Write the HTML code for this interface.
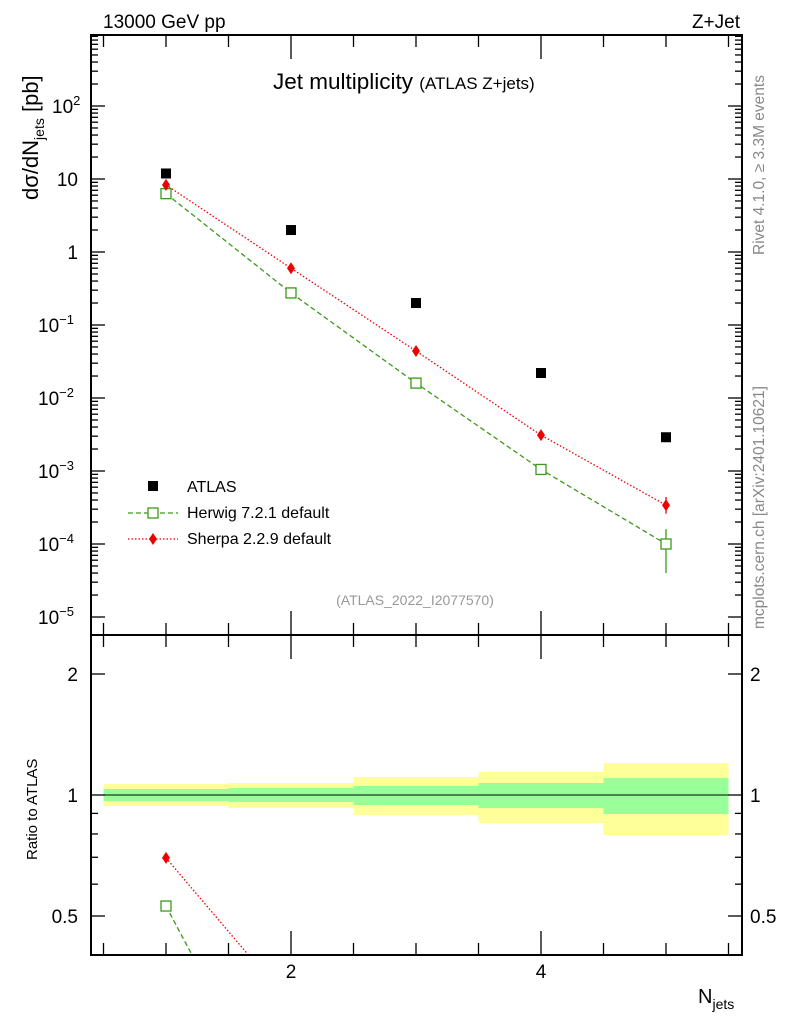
<!DOCTYPE html>
<html><head><meta charset="utf-8"><style>
html,body{margin:0;background:#fff;width:786px;height:1024px;overflow:hidden;}
svg{display:block;font-family:"Liberation Sans",sans-serif;}
</style></head><body>
<svg id="c" width="786" height="1024" viewBox="0 0 786 1024">
<rect width="786" height="1024" fill="#fff"/>
<g id="bands"></g>
<g id="grid"></g>
<g id="marks"></g>
<rect x="91" y="35" width="651" height="600" fill="none" stroke="#000" stroke-width="2"/>
<rect x="91" y="635" width="651" height="320" fill="none" stroke="#000" stroke-width="2"/>
<text x="103" y="28" font-size="19">13000 GeV pp</text>
<text x="740" y="28" font-size="19" text-anchor="end">Z+Jet</text>
<text x="273" y="89" font-size="22.5">Jet multiplicity <tspan font-size="17">(ATLAS Z+jets)</tspan></text>
<text x="415" y="605" font-size="14" fill="#999" text-anchor="middle">(ATLAS_2022_I2077570)</text>
<text transform="translate(764,255) rotate(-90)" font-size="15.5" fill="#888">Rivet 4.1.0, ≥ 3.3M events</text>
<text transform="translate(764,629) rotate(-90)" font-size="15.5" fill="#888">mcplots.cern.ch [arXiv:2401.10621]</text>
<text transform="translate(38,200) rotate(-90)" font-size="22">dσ/dN<tspan font-size="14" dy="6">jets</tspan><tspan dy="-6"> [pb]</tspan></text>
<text transform="translate(37,860) rotate(-90)" font-size="15">Ratio to ATLAS</text>
<text x="698" y="1003" font-size="20">N<tspan font-size="14" dy="6">jets</tspan></text>
<g id="legend">
<rect x="148" y="481" width="10" height="10" fill="#000"/>
<text x="187" y="492" font-size="16">ATLAS</text>
<line x1="128" y1="513" x2="178" y2="513" stroke="#3a9a1a" stroke-width="1.3" stroke-dasharray="5,3"/>
<rect x="148" y="508" width="10" height="10" fill="#fff" stroke="#3a9a1a" stroke-width="1.3"/>
<text x="187" y="518" font-size="16">Herwig 7.2.1 default</text>
<line x1="128" y1="539" x2="178" y2="539" stroke="#e00" stroke-width="1.3" stroke-dasharray="1.5,2"/>
<path d="M153,533 L157,539 L153,545 L149,539Z" fill="#e00"/>
<text x="187" y="544" font-size="16">Sherpa 2.2.9 default</text>
</g>
</svg>
<script>
const njets=[1,2,3,4,5];
const atlas=[11.9,2.0,0.2,0.022,0.0029];
const herwig=[6.3,0.275,0.016,0.00105,0.0001];
const herwigErrLo=[0,0,0,0,0.00004];
const herwigErrHi=[0,0,0,0,0.00016];
const sherpa=[8.3,0.6,0.044,0.0031,0.00034];
const sherpaErrLo=[0,0,0,0,0.00026];
const sherpaErrHi=[0,0,0,0,0.00044];
const yellowHi=[1.065,1.071,1.109,1.141,1.201];
const yellowLo=[0.939,0.928,0.892,0.852,0.795];
const greenHi=[1.035,1.041,1.053,1.071,1.102];
const greenLo=[0.966,0.961,0.944,0.928,0.897];
const mainTicks=[[100,"10$2"],[10,"10"],[1,"1"],[0.1,"10$−1"],[0.01,"10$−2"],[0.001,"10$−3"],[0.0001,"10$−4"],[0.00001,"10$−5"]];
const ratioTicks=[0.5,1,2];
const xTicks=[2,4];

const NS="http://www.w3.org/2000/svg";
const X=v=>166+(v-1)*125;
const Y=v=>106+73*(2-Math.log10(v));
const R=v=>795-121*Math.log2(v);
function el(tag,attrs,parent){const e=document.createElementNS(NS,tag);for(const k in attrs)e.setAttribute(k,attrs[k]);parent.appendChild(e);return e;}
const bands=document.getElementById('bands'),grid=document.getElementById('grid'),marks=document.getElementById('marks');

for(let i=0;i<njets.length;i++){
 const x0=X(njets[i]-0.5),x1=X(njets[i]+0.5);
 const y=el('rect',{x:x0,y:R(yellowHi[i]),width:x1-x0,height:R(yellowLo[i])-R(yellowHi[i]),fill:'#ffff99'},bands);
 
 
 const g=el('rect',{x:x0,y:R(greenHi[i]),width:x1-x0,height:R(greenLo[i])-R(greenHi[i]),fill:'#99ff99'},bands);
 
 
}
const ref=el('line',{x1:91,x2:742,y1:R(1),y2:R(1),stroke:'#000','stroke-width':1},bands);



for(let d=-5;d<=2;d++){
 for(let m=1;m<10;m++){
  const v=m*Math.pow(10,d); const y=Y(v); if(y<35||y>635)continue;
  const L=m==1?14:7;
  el('line',{x1:91,x2:91+L,y1:y,y2:y,stroke:'#000','stroke-width':1.3},grid);
  el('line',{x1:742-L,x2:742,y1:y,y2:y,stroke:'#000','stroke-width':1.3},grid);
 }
}
for(const t of mainTicks){
 const [v,s]=t;const p=s.split('$');
 const tx=el('text',{y:Y(v)+7,'font-size':19},grid);
 
 
 if(p[1]){tx.textContent=p[0];const sp=el('tspan',{'font-size':13,dy:-8},tx);sp.textContent=p[1];tx.setAttribute('x',p[1].length>1?38:52);}
 else{tx.textContent=p[0];tx.setAttribute('x',78);tx.setAttribute('text-anchor','end');}
}
for(const v of [0.4,0.5,0.6,0.7,0.8,0.9,1,2]){
 const y=R(v);if(y<635||y>955)continue;const L=(v==0.5||v==1||v==2)?14:7;
 el('line',{x1:91,x2:91+L,y1:y,y2:y,stroke:'#000','stroke-width':1.3},grid);
 el('line',{x1:742-L,x2:742,y1:y,y2:y,stroke:'#000','stroke-width':1.3},grid);
}
for(const v of ratioTicks){
 const a=el('text',{x:78,y:R(v)+7,'font-size':19,'text-anchor':'end'},grid);a.textContent=String(v);
 
 
 const b=el('text',{x:750,y:R(v)+7,'font-size':19},grid);b.textContent=String(v);
 
 
}
for(let v=0.5;v<=5.5;v+=0.5){
 const x=X(v);const maj=xTicks.includes(v);const L=maj?24:12;
 for(const [b,dir] of [[635,-1],[955,-1],[35,1],[635,1]]){
  el('line',{x1:x,x2:x,y1:b,y2:b+dir*L,stroke:'#000','stroke-width':1.3},grid);
 }
}
for(const v of xTicks){const t=el('text',{x:X(v),y:978,'font-size':19,'text-anchor':'middle'},grid);t.textContent=String(v);
 
 }

function poly(vals,ys,color,dash,name,parent,clip){
 const pts=njets.map((n,i)=>X(n)+','+ys(vals[i])).join(' ');
 const p=el('polyline',{points:pts,fill:'none',stroke:color,'stroke-width':1.3,'stroke-dasharray':dash},parent);
 if(clip)p.setAttribute('clip-path','url(#rclip)');
 
 
}
const defs=el('defs',{},document.getElementById('c'));
const cp=el('clipPath',{id:'rclip'},defs);el('rect',{x:91,y:636,width:651,height:318},cp);
poly(herwig,Y,'#3a9a1a','5,3','herwig-line',marks);
poly(sherpa,Y,'#e00','1.5,2','sherpa-line',marks);
poly(herwig.map((v,i)=>v/atlas[i]),R,'#3a9a1a','5,3','herwig-ratio-line',marks,true);
poly(sherpa.map((v,i)=>v/atlas[i]),R,'#e00','1.5,2','sherpa-ratio-line',marks,true);

for(let i=0;i<njets.length;i++){
 const x=X(njets[i]);
 const a=el('rect',{x:x-5,y:Y(atlas[i])-5,width:10,height:10,fill:'#000'},marks);
 
 
 if(herwigErrLo[i]){const e=el('line',{x1:x,x2:x,y1:Y(herwigErrHi[i]),y2:Y(herwigErrLo[i]),stroke:'#3a9a1a','stroke-width':1.3},marks);
  
  }
 if(sherpaErrLo[i]){const e=el('line',{x1:x,x2:x,y1:Y(sherpaErrHi[i]),y2:Y(sherpaErrLo[i]),stroke:'#e00','stroke-width':1.3},marks);
  
  }
 const h=el('rect',{x:x-5,y:Y(herwig[i])-5,width:10,height:10,fill:'#fff',stroke:'#3a9a1a','stroke-width':1.3},marks);
 
 
 const sy=Y(sherpa[i]);
 const s=el('path',{d:`M${x},${sy-6}L${x+4},${sy}L${x},${sy+6}L${x-4},${sy}Z`,fill:'#e00'},marks);
 
 
 const hr=herwig[i]/atlas[i],sr=sherpa[i]/atlas[i];
 if(R(hr)<950){const q=el('rect',{x:x-5,y:R(hr)-5,width:10,height:10,fill:'#fff',stroke:'#3a9a1a','stroke-width':1.3},marks);
  
  }
 if(R(sr)<950){const ry=R(sr);const q=el('path',{d:`M${x},${ry-6}L${x+4},${ry}L${x},${ry+6}L${x-4},${ry}Z`,fill:'#e00'},marks);
  
  }
}
</script>
</body></html>
